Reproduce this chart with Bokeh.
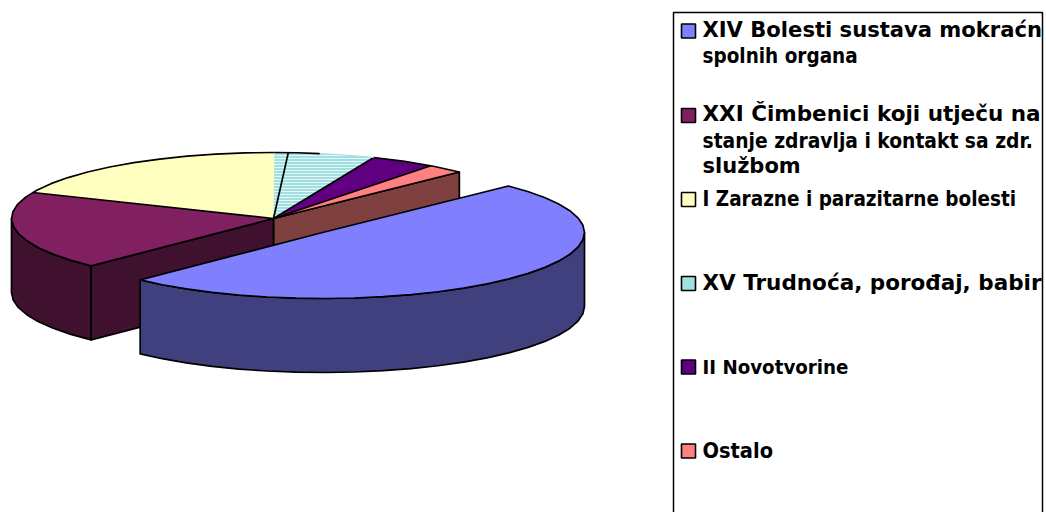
import math
from bokeh.plotting import figure
from bokeh.models import Range1d
from bokeh.core.properties import value
from bokeh.embed import file_html
from bokeh.resources import INLINE

# ---- data
categories = ["XIV Bolesti sustava mokraćn", "XXI Čimbenici koji utječu na", "I Zarazne i parazitarne bolesti",
              "XV Trudnoća, porođaj, babir", "II Novotvorine", "Ostalo"]
shares = [49.7, 19.2, 18.6, 6.2, 4.0, 2.3]
start_share = 12.55
cyan_divider_share = 0.85
top_colors = ["#8080FF", "#802060", "#FFFFC0", "#A0E0E0", "#600080", "#FF8080"]
side_colors = ["#40407F", "#40102F", "#7F7F60", "#507070", "#300040", "#7F4040"]

wide_lines = ["XIV Bolesti sustava mokraćn", "XXI Čimbenici koji utječu na", "službom", "XV Trudnoća, porođaj, babir"]
tight_lines = ["spolnih organa", "stanje zdravlja i kontakt sa zdr.", "I Zarazne i parazitarne bolesti",
               "II Novotvorine", "Ostalo"]

# ---- layout (reference pixel space)
W, H = 1046, 512
CX, CY, RX, RY, DEPTH = 273, 218, 262, 66, 74
EXPLODE = (49, 14)
STEP = 6.5
wide_y = [29, 112.5, 165, 281.5]
wide_sizes = [21.1, 21.5, 21, 21.5]
tight_y = [55.5, 140, 198, 366, 450]
tight_sizes = [20.5, 20.8, 20.5, 20.3, 21.6]
swatch_y = [30.5, 115, 199, 283, 366.5, 450.5]

p = figure(width=W, height=H, output_backend="svg", toolbar_location=None,
           x_range=Range1d(0, W), y_range=Range1d(H, 0),
           min_border=0, outline_line_color=None, background_fill_color="white")
p.axis.visible = False
p.grid.visible = False


def pt(theta, cx=CX, cy=CY, dz=0):
    r = math.radians(theta)
    return cx + RX * math.sin(r), cy - RY * math.cos(r) + dz


def arc(a0, a1, cx=CX, cy=CY, dz=0):
    n = max(1, round((a1 - a0) / STEP))
    return [pt(a0 + (a1 - a0) * i / n, cx, cy, dz) for i in range(n + 1)]


def xs(pts):
    return [q[0] for q in pts]


def ys(pts):
    return [q[1] for q in pts]


# slice angles, clockwise from 12 o'clock
angles = []
a = start_share * 3.6
for s in shares:
    angles.append((a, a + s * 3.6))
    a += s * 3.6

K = dict(line_color="black", line_width=1.7, line_join="round")

# pink cut face and maroon cut + outer wall (sit behind the exploded slice)
pink_end = pt(angles[0][0])
q = [(CX, CY), pink_end, (pink_end[0], pink_end[1] + DEPTH), (CX, CY + DEPTH)]
p.patch(xs(q), ys(q), fill_color=side_colors[5], **K)
m0, m1 = angles[1]
wall_end = 270
top_arc = arc(m0, wall_end)
bot_arc = arc(m0, wall_end, dz=DEPTH)
wall = top_arc + bot_arc[::-1]
p.patch(xs(wall), ys(wall), fill_color=side_colors[1], **K)
m_start = pt(m0)
cut = [(CX, CY), m_start, (m_start[0], m_start[1] + DEPTH), (CX, CY + DEPTH)]
p.patch(xs(cut), ys(cut), fill_color=side_colors[1], **K)

# top faces of the slices that stay at the centre
for i in [1, 2, 3, 4, 5]:
    a0, a1 = angles[i]
    pts = [(CX, CY)] + arc(a0, a1)
    kw = {}
    if i == 3:
        kw = dict(hatch_pattern="horizontal_line", hatch_color="white", hatch_scale=3, hatch_weight=1, hatch_alpha=0.75)
    p.patch(xs(pts), ys(pts), fill_color=top_colors[i], line_color=None, **kw)

# outlines of those faces
y0, y1 = angles[2]
c0, c1 = angles[3]
black_to = c0 + 10
outline = [
    [(CX, CY), pt(angles[1][0])],
    [(CX, CY), pt(angles[2][0])],
    [(CX, CY), pt(c1)],
    [(CX, CY), pt(angles[4][1])],
    [(CX, CY), pt(angles[5][1])],
    arc(angles[1][0], y1),
    arc(c0, black_to),
    arc(angles[4][0], angles[5][1]),
    [(CX, CY), pt(c0 + cyan_divider_share * 3.6)],
]
p.multi_line([xs(o) for o in outline], [ys(o) for o in outline], **K)
fade = arc(black_to, c1)
p.line(xs(fade), ys(fade), line_color=top_colors[3], line_width=1)

# exploded slice: wall then top
bx, by = CX + EXPLODE[0], CY + EXPLODE[1]
b0, b1 = angles[0]
w_top = arc(90, b1, bx, by)
w_bot = arc(90, b1, bx, by, DEPTH)
wall = w_top + w_bot[::-1]
p.patch(xs(wall), ys(wall), fill_color=side_colors[0], **K)
pts = [(bx, by)] + arc(b0, b1, bx, by)
p.patch(xs(pts), ys(pts), fill_color=top_colors[0], **K)

# legend box (runs past the bottom of the picture)
p.multi_line([[673, 673, 1042, 1042]], [[530, 12, 12, 530]], line_color="black", line_width=1.5)
p.rect([688] * 6, swatch_y, width=14, height=14, fill_color=top_colors, line_color="black", line_width=1.6)
p.text([702] * len(wide_lines), wide_y, text=wide_lines, text_font=value("DejaVu Sans"),
       text_font_style="bold", text_font_size=[f"{s}px" for s in wide_sizes], text_baseline="middle",
       text_color="black")
p.text([702] * len(tight_lines), tight_y, text=tight_lines, text_font=value("DejaVu Sans Condensed"),
       text_font_style="bold", text_font_size=[f"{s}px" for s in tight_sizes], text_baseline="middle",
       text_color="black")

open("out.html", "w").write(file_html(p, INLINE))
